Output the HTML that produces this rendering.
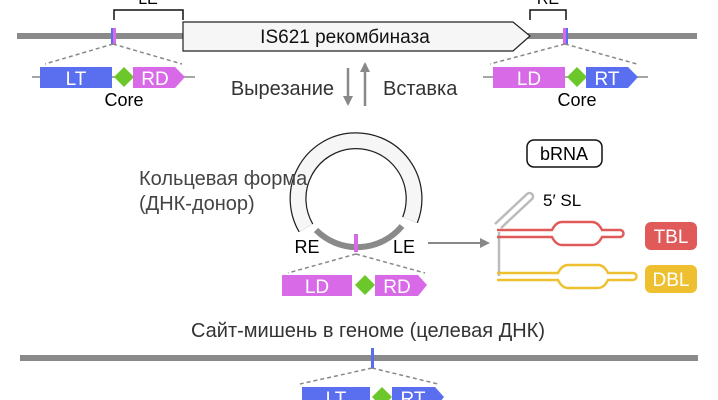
<!DOCTYPE html>
<html><head><meta charset="utf-8"><style>
html,body{margin:0;padding:0;background:#fff;}
svg{display:block;font-family:"Liberation Sans",sans-serif;}
</style></head><body>
<svg width="718" height="400" viewBox="0 0 718 400">
<defs><marker id="ah" markerWidth="10" markerHeight="10" refX="8" refY="5" orient="auto" markerUnits="userSpaceOnUse"><path d="M0,0 L10,5 L0,10 Z" fill="#888"/></marker></defs>
<rect x="17" y="33" width="680" height="6" fill="#8a8a8a"/>
<path d="M183,22 L513,22 L530,36 L513,51 L183,51 Z" fill="#f6f6f6" stroke="#222" stroke-width="1.2"/>
<text x="345" y="43" font-size="19" text-anchor="middle" fill="#111">IS621 рекомбиназа</text>
<path d="M114,20 V10 H183 V20" fill="none" stroke="#111" stroke-width="1.5"/>
<text x="148" y="4" font-size="16" text-anchor="middle">LE</text>
<path d="M530,20 V10 H566 V20" fill="none" stroke="#111" stroke-width="1.5"/>
<text x="548" y="4" font-size="16" text-anchor="middle">RE</text>
<rect x="111" y="28" width="2" height="16" fill="#5a6ef0"/><rect x="113" y="28" width="3" height="16" fill="#d86ae8"/>
<rect x="563" y="28" width="3" height="16" fill="#d86ae8"/><rect x="566" y="28" width="2" height="16" fill="#5a6ef0"/>
<g stroke="#888" stroke-width="1.5" stroke-dasharray="4,3" fill="none">
<path d="M113,44 L45,64 M113,44 L182,64"/><path d="M565,44 L490,64 M565,44 L637,64"/>
<path d="M356,254 L288,273 M356,254 L425,273"/><path d="M372,368 L300,384 M372,368 L438,384"/>
</g>
<line x1="32" y1="77" x2="195" y2="77" stroke="#888" stroke-width="1.5"/>
<rect x="40" y="67" width="72" height="21" fill="#5a6ef0"/><text x="76" y="85" font-size="19" fill="#fff" text-anchor="middle">LT</text>
<path d="M124,67 L134,77 L124,87 L114,77Z" fill="#6cc82a"/>
<path d="M133,67 H175 L185,77 L175,88 H133Z" fill="#d86ae8"/><text x="155" y="85" font-size="19" fill="#fff" text-anchor="middle">RD</text>
<text x="124" y="106" font-size="18" text-anchor="middle">Core</text>
<line x1="483" y1="77" x2="648" y2="77" stroke="#888" stroke-width="1.5"/>
<rect x="493" y="67" width="72" height="21" fill="#d86ae8"/><text x="529" y="85" font-size="19" fill="#fff" text-anchor="middle">LD</text>
<path d="M577,67 L587,77 L577,87 L567,77Z" fill="#6cc82a"/>
<path d="M586,67 H628 L638,77 L628,88 H586Z" fill="#5a6ef0"/><text x="607" y="85" font-size="19" fill="#fff" text-anchor="middle">RT</text>
<text x="577" y="106" font-size="18" text-anchor="middle">Core</text>
<line x1="348" y1="68" x2="348" y2="104" stroke="#888" stroke-width="2.5" marker-end="url(#ah)"/>
<line x1="365" y1="106" x2="365" y2="64" stroke="#888" stroke-width="2.5" marker-end="url(#ah)"/>
<text x="334" y="95" font-size="20" fill="#333" text-anchor="end">Вырезание</text>
<text x="383" y="95" font-size="20" fill="#333">Вставка</text>
<path d="M306,228 A58,58 0 1 1 410,220" fill="none" stroke="#222" stroke-width="17"/>
<path d="M306,228 A58,58 0 1 1 410,220" fill="none" stroke="#f6f6f6" stroke-width="14.5"/>
<path d="M316,230 A58,58 0 0 0 402,226" fill="none" stroke="#8a8a8a" stroke-width="6"/>
<rect x="354" y="234" width="4" height="18" fill="#d86ae8"/>
<text x="139" y="185" font-size="20" fill="#444">Кольцевая форма</text>
<text x="139" y="210" font-size="20" fill="#444">(ДНК-донор)</text>
<text x="307" y="253" font-size="18" text-anchor="middle">RE</text>
<text x="404" y="253" font-size="18" text-anchor="middle">LE</text>
<line x1="428" y1="243" x2="488" y2="243" stroke="#888" stroke-width="2" marker-end="url(#ah)"/>
<rect x="282" y="275" width="70" height="21" fill="#d86ae8"/><text x="317" y="293" font-size="19" fill="#fff" text-anchor="middle">LD</text>
<path d="M365,275 L375,285 L365,295 L355,285Z" fill="#6cc82a"/>
<path d="M375,275 H418 L427,285 L418,296 H375Z" fill="#d86ae8"/><text x="397" y="293" font-size="19" fill="#fff" text-anchor="middle">RD</text>
<rect x="527" y="140" width="75" height="27" rx="7" fill="#fff" stroke="#111" stroke-width="1.5"/>
<text x="564" y="160" font-size="18" text-anchor="middle">bRNA</text>
<text x="543" y="206" font-size="17">5′ SL</text>
<path d="M495,224 L527,194 A3.5,3.5 0 0 1 532,199 L501,228" fill="none" stroke="#bbb" stroke-width="2.5"/>
<line x1="499" y1="232" x2="499" y2="276" stroke="#bbb" stroke-width="2.5"/>
<path d="M497,230 H552 Q556,222 562,222 H592 Q598,222 602,230 H620 A3.5,3.5 0 0 1 620,237 H602 Q598,245 592,245 H562 Q556,245 552,237 H497" fill="none" stroke="#e05a5a" stroke-width="2.5"/>
<path d="M497,273 H558 Q562,265 568,265 H598 Q604,265 608,273 H633 A3.5,3.5 0 0 1 633,280 H608 Q604,288 598,288 H568 Q562,288 558,280 H497" fill="none" stroke="#eec030" stroke-width="2.5"/>
<rect x="645" y="222" width="52" height="28" rx="6" fill="#e05a5a"/><text x="671" y="243" font-size="19" fill="#fff" text-anchor="middle">TBL</text>
<rect x="645" y="265" width="52" height="28" rx="6" fill="#eec030"/><text x="671" y="286" font-size="19" fill="#fff" text-anchor="middle">DBL</text>
<text x="368" y="337" font-size="20" fill="#333" text-anchor="middle">Сайт-мишень в геноме (целевая ДНК)</text>
<rect x="20" y="355" width="678" height="6" fill="#8a8a8a"/>
<rect x="371" y="348" width="3" height="20" fill="#5a6ef0"/>
<rect x="302" y="387" width="68" height="21" fill="#5a6ef0"/><text x="336" y="405" font-size="19" fill="#fff" text-anchor="middle">LT</text>
<path d="M382,387 L392,397 L382,407 L372,397Z" fill="#6cc82a"/>
<path d="M392,387 H435 L444,397 L435,408 H392Z" fill="#5a6ef0"/><text x="413" y="405" font-size="19" fill="#fff" text-anchor="middle">RT</text>
</svg>
</body></html>
